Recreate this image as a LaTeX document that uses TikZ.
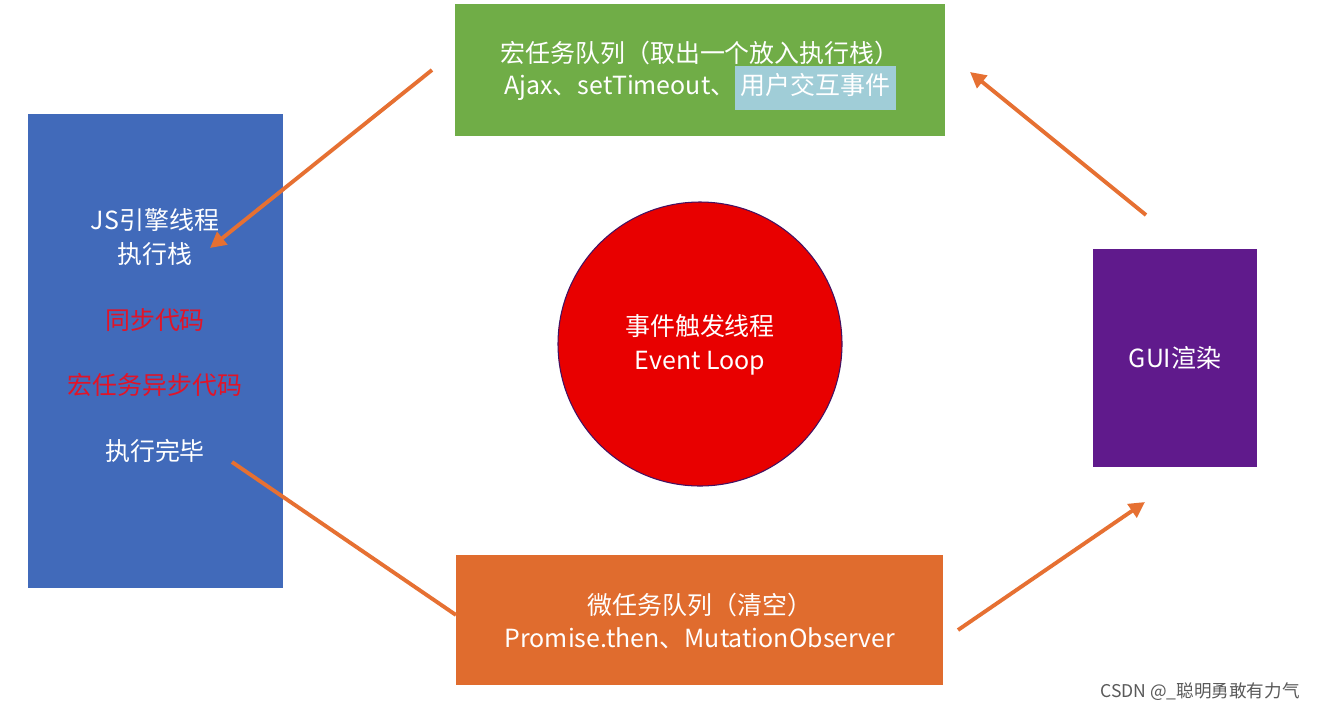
\documentclass[tikz,border=0pt]{standalone}
\usepackage{fontspec}
\setmainfont{Noto Sans CJK SC}
\usetikzlibrary{arrows.meta}
\definecolor{cblue}{RGB}{65,106,186}
\definecolor{cgreen}{RGB}{112,173,71}
\definecolor{cred}{RGB}{232,0,0}
\definecolor{cpurple}{RGB}{96,26,140}
\definecolor{corange}{RGB}{224,108,46}
\definecolor{carrow}{RGB}{230,112,50}
\definecolor{chl}{RGB}{160,205,215}
\definecolor{ctext}{RGB}{225,20,40}
\begin{document}
\begin{tikzpicture}[x=0.02cm,y=-0.02cm,
  txt/.style={text=white,font=\fontsize{14.2}{19.3}\selectfont,align=center,inner sep=0},
  arr/.style={draw=carrow,line width=2.2pt,-{Triangle[length=9pt,width=9pt]}},
  ln/.style={draw=carrow,line width=2.2pt}]
\useasboundingbox (0,0) rectangle (1326,711);
\fill[white] (0,0) rectangle (1326,711);
\node[fill=cblue,minimum width=255*0.02cm,minimum height=474*0.02cm,inner sep=0] (js) at (155.5,351) {};
\node[fill=cgreen,minimum width=490*0.02cm,minimum height=132*0.02cm,inner sep=0] (macro) at (700,70) {};
\node[fill=corange,minimum width=487*0.02cm,minimum height=130*0.02cm,inner sep=0] (micro) at (699.5,620) {};
\node[fill=cpurple,minimum width=164*0.02cm,minimum height=218*0.02cm,inner sep=0] (gui) at (1175,358) {};
\node[circle,fill=cred,draw=cpurple!70!black,line width=0.6pt,minimum size=284*0.02cm,inner sep=0] (loop) at (700,344) {};
\node[txt] (t1) at (155,237) {JS引擎线程\\执行栈};
\node[txt,text=ctext] (t2) at (155,320) {同步代码};
\node[txt,text=ctext] (t3) at (155,385) {宏任务异步代码};
\node[txt] (t4) at (155,451) {执行完毕};
\node[txt] (m1) at (700,53) {宏任务队列（取出一个放入执行栈）};
\node[txt] (m2) at (700,88) {Ajax、setTimeout、\colorbox{chl}{\strut 用户交互事件}};
\node[txt] (l1) at (700,345) {事件触发线程\\Event Loop};
\node[txt] (g1) at (1175,358) {GUI渲染};
\node[txt] (o1) at (700,621) {微任务队列（清空）\\Promise.then、MutationObserver};
\node[text=gray!70!black,font=\fontsize{10}{12}\selectfont,inner sep=0] (wm) at (1200,692) {CSDN @\_聪明勇敢有力气};
\coordinate (a1s) at (432,70); \coordinate (a1e) at (210,248);
\coordinate (a2s) at (1146,215); \coordinate (a2e) at (970,72);
\coordinate (a3s) at (232,462); \coordinate (a3e) at (456,615);
\coordinate (a4s) at (958,630); \coordinate (a4e) at (1145,502);
\draw[arr] (a1s) -- (a1e);
\draw[arr] (a2s) -- (a2e);
\draw[ln] (a3s) -- (a3e);
\draw[arr] (a4s) -- (a4e);
\end{tikzpicture}
\end{document}
